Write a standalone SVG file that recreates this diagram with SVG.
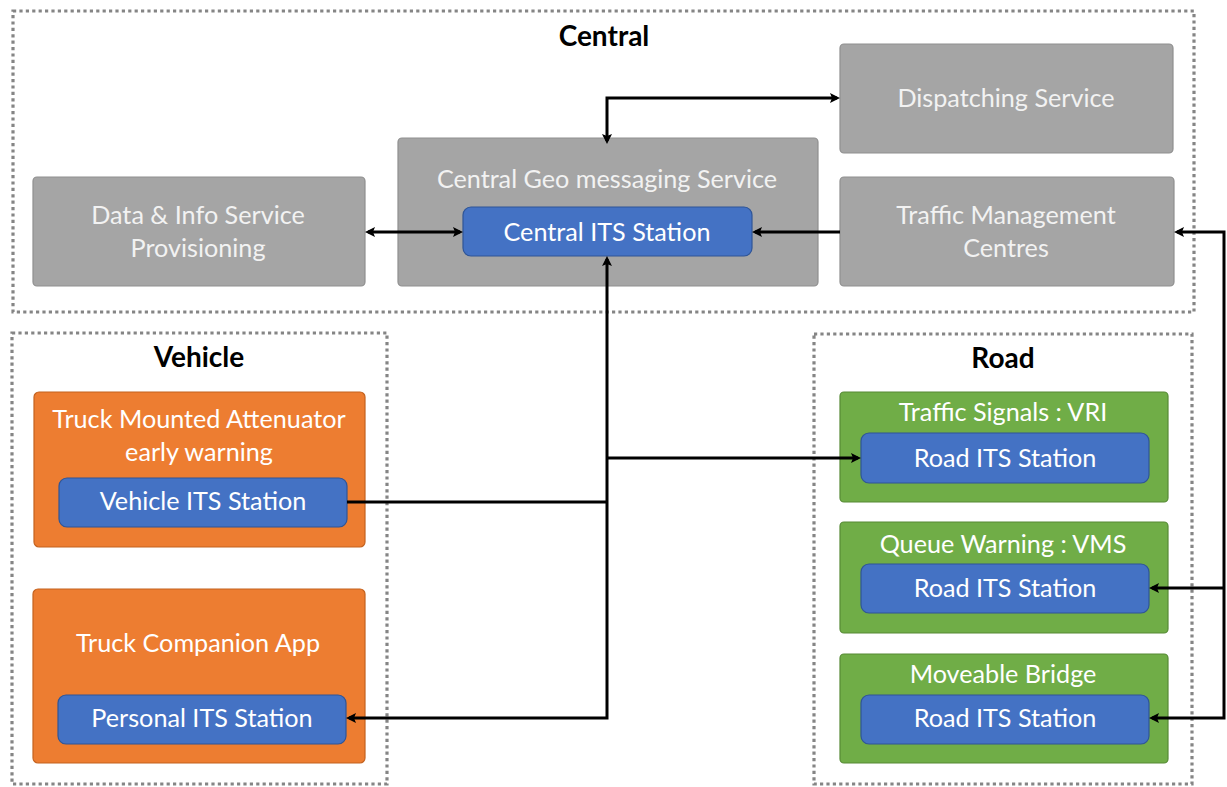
<svg xmlns="http://www.w3.org/2000/svg" width="1227" height="787" viewBox="0 0 1227 787">
  <style>
    .zone { fill: none; stroke: #858585; stroke-width: 3.2; stroke-dasharray: 3.2 3.2; }
    .zone-title { font-family: Lato, "Liberation Sans", sans-serif; font-weight: bold; font-size: 28px; fill: #000; text-anchor: middle; }
    .svc { fill: #a5a5a5; stroke: #8f8f8f; stroke-width: 1.2; }
    .veh { fill: #ed7d31; stroke: #c4621f; stroke-width: 1.2; }
    .road { fill: #70ad47; stroke: #568a35; stroke-width: 1.2; }
    .its { fill: #4472c4; stroke: #2f5597; stroke-width: 1.2; }
    .lbl { font-family: Lato, "Liberation Sans", sans-serif; font-size: 25.2px; fill: #ffffff; text-anchor: middle; }
    .lbl-g { fill: #f2f2f2; }
    .wire { fill: none; stroke: #000; stroke-width: 3; stroke-linejoin: miter; }
  </style>
  <defs>
    <marker id="arrow" viewBox="0 0 10 10" refX="7" refY="5" markerWidth="11" markerHeight="10" markerUnits="userSpaceOnUse" orient="auto-start-reverse">
      <path d="M0,0 L10,5 L0,10 L2,5 z" fill="#000"/>
    </marker>
  </defs>

  <rect width="1227" height="787" fill="#ffffff"/>

  <!-- Zones -->
  <g id="zone-central">
    <rect class="zone" x="13" y="11" width="1181" height="301"/>
    <text class="zone-title" x="604" y="46">Central</text>
  </g>
  <g id="zone-vehicle">
    <rect class="zone" x="12" y="333" width="375" height="451"/>
    <text class="zone-title" x="199" y="367">Vehicle</text>
  </g>
  <g id="zone-road">
    <rect class="zone" x="814" y="334" width="378" height="450"/>
    <text class="zone-title" x="1003" y="368">Road</text>
  </g>

  <!-- Central services -->
  <g id="data-info">
    <rect class="svc" x="33" y="177" width="332" height="109" rx="4"/>
    <text class="lbl lbl-g" x="198" y="224">Data &amp; Info Service</text>
    <text class="lbl lbl-g" x="198" y="257">Provisioning</text>
  </g>
  <g id="central-geo">
    <rect class="svc" x="398" y="138" width="420" height="148" rx="4"/>
    <text class="lbl lbl-g" x="607" y="188">Central Geo messaging Service</text>
  </g>
  <g id="central-its">
    <rect class="its" x="463" y="207" width="289" height="49" rx="8"/>
    <text class="lbl" x="607" y="241">Central ITS Station</text>
  </g>
  <g id="dispatching">
    <rect class="svc" x="840" y="44" width="333" height="109" rx="4"/>
    <text class="lbl lbl-g" x="1006" y="107">Dispatching Service</text>
  </g>
  <g id="traffic-mgmt">
    <rect class="svc" x="840" y="177" width="334" height="109" rx="4"/>
    <text class="lbl lbl-g" x="1006" y="224">Traffic Management</text>
    <text class="lbl lbl-g" x="1006" y="257">Centres</text>
  </g>

  <!-- Vehicle side -->
  <g id="tma">
    <rect class="veh" x="34" y="392" width="331" height="155" rx="5"/>
    <text class="lbl" x="199" y="428">Truck Mounted Attenuator</text>
    <text class="lbl" x="199" y="461">early warning</text>
  </g>
  <g id="vehicle-its">
    <rect class="its" x="59" y="478" width="288" height="49" rx="8"/>
    <text class="lbl" x="203" y="510">Vehicle ITS Station</text>
  </g>
  <g id="companion-app">
    <rect class="veh" x="33" y="589" width="332" height="174" rx="5"/>
    <text class="lbl" x="198" y="652">Truck Companion App</text>
  </g>
  <g id="personal-its">
    <rect class="its" x="58" y="695" width="288" height="49" rx="8"/>
    <text class="lbl" x="202" y="727">Personal ITS Station</text>
  </g>

  <!-- Road side -->
  <g id="traffic-signals">
    <rect class="road" x="840" y="392" width="328" height="110" rx="4"/>
    <text class="lbl" x="1003" y="421">Traffic Signals : VRI</text>
  </g>
  <g id="road-its-1">
    <rect class="its" x="861" y="433" width="288" height="50" rx="8"/>
    <text class="lbl" x="1005" y="467">Road ITS Station</text>
  </g>
  <g id="queue-warning">
    <rect class="road" x="840" y="522" width="328" height="111" rx="4"/>
    <text class="lbl" x="1003" y="553">Queue Warning : VMS</text>
  </g>
  <g id="road-its-2">
    <rect class="its" x="861" y="564" width="288" height="49" rx="8"/>
    <text class="lbl" x="1005" y="597">Road ITS Station</text>
  </g>
  <g id="moveable-bridge">
    <rect class="road" x="840" y="654" width="328" height="109" rx="4"/>
    <text class="lbl" x="1003" y="683">Moveable Bridge</text>
  </g>
  <g id="road-its-3">
    <rect class="its" x="861" y="695" width="288" height="49" rx="8"/>
    <text class="lbl" x="1005" y="727">Road ITS Station</text>
  </g>

  <!-- Connectors -->
  <g id="connectors">
    <path class="wire" d="M368,232 H460" marker-start="url(#arrow)" marker-end="url(#arrow)"/>
    <path class="wire" d="M607,141 V98 H837" marker-start="url(#arrow)" marker-end="url(#arrow)"/>
    <path class="wire" d="M840,232 H755" marker-end="url(#arrow)"/>
    <path class="wire" d="M607,259 V718 H349" marker-start="url(#arrow)" marker-end="url(#arrow)"/>
    <path class="wire" d="M607,458 H858" marker-end="url(#arrow)"/>
    <path class="wire" d="M347,502 H607"/>
    <path class="wire" d="M1177,232 H1224 V718 H1152" marker-start="url(#arrow)" marker-end="url(#arrow)"/>
    <path class="wire" d="M1224,588 H1152" marker-end="url(#arrow)"/>
  </g>
</svg>
